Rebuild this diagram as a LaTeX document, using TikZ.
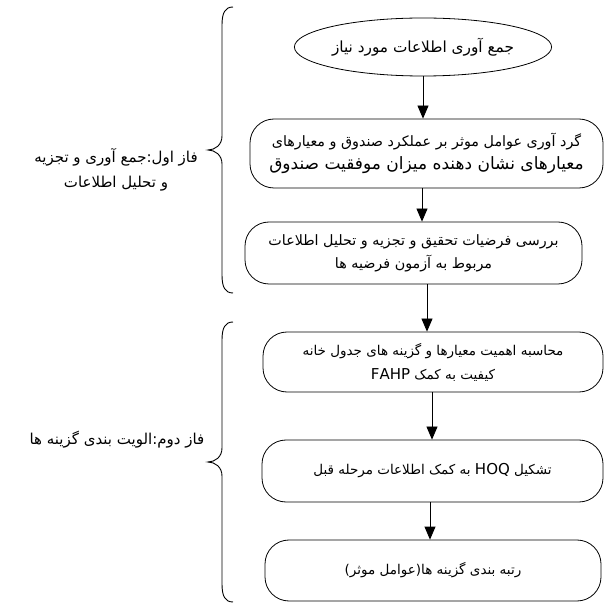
\documentclass[tikz,border=0pt]{standalone}
\usepackage{fontspec}
\usetikzlibrary{arrows.meta,shapes.geometric}
\TeXXeTstate=1
\newfontfamily\arabicfont[Script=Arabic]{DejaVu Sans}
\newcommand{\RL}[1]{\beginR #1\endR}
\tikzset{
  stepbox/.style={draw, line width=0.8pt, rounded corners=24pt, inner sep=0pt, align=center, font=\arabicfont\fontsize{13.5}{26}\selectfont},
  bigtext/.style={font=\arabicfont\fontsize{14.3}{26}\selectfont},
  oval/.style={draw, ellipse, line width=0.8pt, inner sep=0pt, font=\arabicfont\fontsize{15.3}{16}\selectfont},
  flow/.style={line width=0.8pt, -{Triangle[length=13pt,width=11pt]}},
  brc/.style={line width=0.9pt},
  phase/.style={align=center, font=\arabicfont\fontsize{15}{25}\selectfont}
}
\begin{document}
\begin{tikzpicture}[x=1pt,y=-1pt]
\useasboundingbox (0,0) rectangle (606,604);
\node[oval, minimum width=240pt, minimum height=58pt] (e) at (423,47) {\RL{جمع آوری اطلاعات مورد نیاز}};
\node[stepbox, bigtext, minimum width=353pt, minimum height=69pt] (b2) at (426.5,153.5)
  {\RL{گرد آوری عوامل موثر بر عملکرد صندوق و معیارهای}\\[-3pt]{\fontsize{17}{18}\selectfont\RL{معیارهای نشان دهنده میزان موفقیت صندوق}}};
\node[stepbox, bigtext, minimum width=337pt, minimum height=62pt] (b3) at (413.5,253)
  {\RL{بررسی فرضیات تحقیق و تجزیه و تحلیل اطلاعات}\\[-3pt]\RL{مربوط به آزمون فرضیه ها}};
\node[stepbox, minimum width=340pt, minimum height=60pt] (b4) at (433,362)
  {\RL{محاسبه اهمیت معیارها و گزینه های جدول خانه}\\[-2pt]\RL{کیفیت به کمک \beginL{\fontsize{15}{16}\selectfont FAHP}\endL}};
\node[stepbox, minimum width=341pt, minimum height=62pt] (b5) at (432.5,471)
  {\RL{تشکیل \beginL{\fontsize{15}{16}\selectfont HOQ}\endL{} به کمک اطلاعات مرحله قبل}};
\node[stepbox, minimum width=336pt, minimum height=61pt] (b6) at (433,570.5)
  {\RL{رتبه بندی گزینه ها(عوامل موثر)}};
\draw[flow] (e.south) -- (e.south |- b2.north);
\draw[flow] (b2.south -| 422,0) -- (b3.north -| 422,0);
\draw[flow] (b3.south -| 427,0) -- (b4.north -| 427,0);
\draw[flow] (b4.south -| 432,0) -- (b5.north -| 432,0);
\draw[flow] (b5.south -| 430,0) -- (b6.north -| 430,0);
% braces
\draw[brc] (233,7) .. controls (225,7) and (222,13) .. (222,25) -- (222,136)
  .. controls (222,145) and (215,150) .. (208,150)
  .. controls (215,150) and (222,155) .. (222,164) -- (222,275)
  .. controls (222,287) and (225,293) .. (233,293);
\draw[brc] (233,322) .. controls (225,322) and (222,328) .. (222,340) -- (222,448)
  .. controls (222,457) and (215,462) .. (208,462)
  .. controls (215,462) and (222,467) .. (222,476) -- (222,584)
  .. controls (222,596) and (225,602) .. (233,602);
\node[phase] (p1) at (116,170) {\RL{فاز اول:جمع آوری و تجزیه}\\\RL{و تحلیل اطلاعات}};
\node[phase] (p2) at (117,440) {\RL{فاز دوم:الویت بندی  گزینه ها}};
\end{tikzpicture}
\end{document}
